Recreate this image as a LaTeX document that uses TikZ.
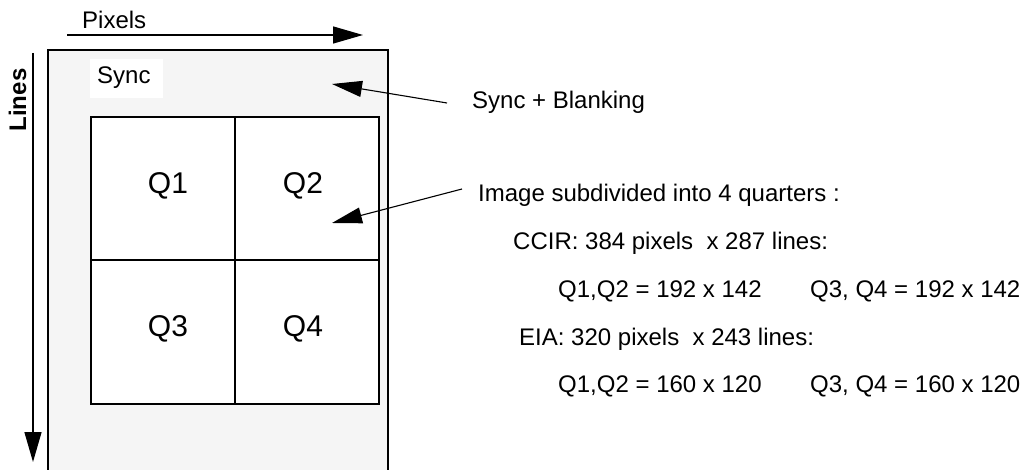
\documentclass[tikz,border=0pt]{standalone}
\usepackage{fontspec}
\setmainfont{Liberation Sans}
\usetikzlibrary{arrows.meta}
\definecolor{panel}{HTML}{F5F5F5}
\tikzset{
  lbl/.style={inner sep=0pt, font=\fontsize{24}{28}\selectfont, anchor=west},
  qlbl/.style={inner sep=0pt, font=\fontsize{30}{34}\selectfont},
  cell/.style={draw, fill=white, line width=1.4pt, minimum width=144pt, inner sep=0pt},
  bigarrow/.style={line width=1.4pt, -{Triangle[length=30pt,width=17pt]}},
  ptr/.style={line width=1.1pt, -{Triangle[length=30pt,width=16pt]}},
}
\begin{document}
\begin{tikzpicture}[x=1pt,y=-1pt]
\useasboundingbox (0,0) rectangle (1024,470);
% outer frame
\draw[fill=panel, line width=1.8pt] (48,50) rectangle (388,480);
% sync box
\node[fill=white, minimum width=73pt, minimum height=39pt, inner sep=0pt] (syncbox) at (126.5,78.5) {};
\node[lbl] (sync) at (97,78) {Sync};
% quarters
\node[cell, minimum height=143pt] (q1) at (163,188.5) {};
\node[cell, minimum height=143pt] (q2) at (307,188.5) {};
\node[cell, minimum height=144pt] (q3) at (163,332) {};
\node[cell, minimum height=144pt] (q4) at (307,332) {};
\node[qlbl] at (168,186) {Q1};
\node[qlbl] at (303,186) {Q2};
\node[qlbl] at (168,329) {Q3};
\node[qlbl] at (303,329) {Q4};
% axes
\node[lbl] (pixels) at (82,20) {Pixels};
\coordinate (px0) at (67,35);
\coordinate (px1) at (363,35);
\draw[bigarrow] (px0) -- (px1);
\node[inner sep=0pt, font=\fontsize{24}{28}\selectfont\bfseries, rotate=90] (lines) at (17.5,100) {Lines};
\coordinate (ln0) at (33,53);
\coordinate (ln1) at (33,462);
\draw[bigarrow] (ln0) -- (ln1);
% annotations
\node[lbl] (sb) at (472,102) {Sync + Blanking};
\node[lbl] (img) at (478,195) {Image subdivided into 4 quarters :};
\node[lbl] (ccir) at (513,243) {CCIR: 384 pixels\ \ x 287 lines:};
\node[lbl] (c1) at (558,291) {Q1,Q2 = 192 x 142};
\node[lbl] (c2) at (810,291) {Q3, Q4 = 192 x 142};
\node[lbl] (eia) at (519,339) {EIA: 320 pixels\ \ x 243 lines:};
\node[lbl] (e1) at (558,386) {Q1,Q2 = 160 x 120};
\node[lbl] (e2) at (810,386) {Q3, Q4 = 160 x 120};
\coordinate (sbs) at (447,103);
\coordinate (imgs) at (462,189);
\coordinate (syncptr) at (332,84);
\coordinate (imgptr) at (332,223);
\draw[ptr] (sbs) -- (syncptr);
\draw[ptr] (imgs) -- (imgptr);
\end{tikzpicture}
\end{document}
